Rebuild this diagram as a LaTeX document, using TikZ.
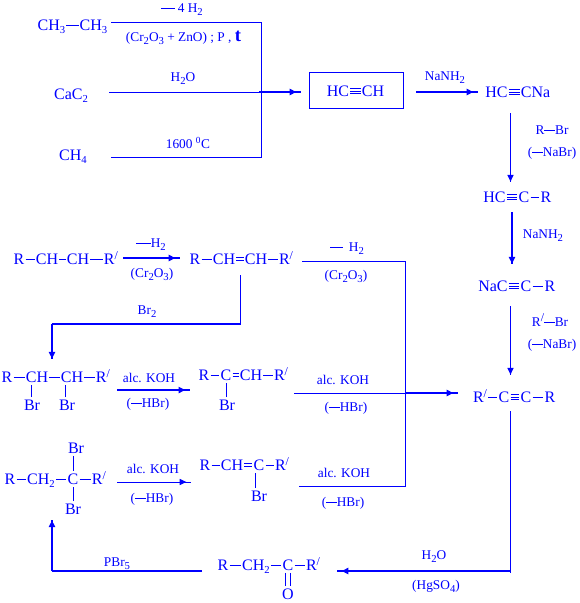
\documentclass[tikz,border=0pt]{standalone}
\usepackage{fontspec}
\setmainfont{Liberation Serif}
\usetikzlibrary{arrows.meta,decorations.markings}
\definecolor{chem}{RGB}{0,0,255}
\newcommand{\ld}[1][8pt]{\rule[2.7pt]{#1}{0.6pt}}
\newcommand{\su}[1]{\raisebox{-2.6pt}{\fontsize{8}{9}\selectfont #1}}
\newcommand{\rp}{R\raisebox{3.6pt}{\small /}}
\newcommand{\A}[4]{\node[atom] (#1) at (#2,#3) {#4};}
\newcommand{\Br}[3]{\node[atom] (#1) at (#2,#3) {Br};}
\newcommand{\Lb}[4]{\node[lab] (#1) at (#2,#3) {#4};}
\newcommand{\B}[2]{\draw[bond] (#1) -- (#2);}
\newcommand{\DB}[2]{\draw[bond,transform canvas={yshift=1.3pt}] (#1) -- (#2);\draw[bond,transform canvas={yshift=-1.3pt}] (#1) -- (#2);}
\newcommand{\TB}[2]{\draw[bond] (#1) -- (#2);\draw[bond,transform canvas={yshift=1.9pt}] (#1) -- (#2);\draw[bond,transform canvas={yshift=-1.9pt}] (#1) -- (#2);}
\tikzset{
  atom/.style={text=chem,font=\fontsize{12}{14}\selectfont,inner sep=0.7pt,text height=7.9pt,text depth=0pt,anchor=center},
  lab/.style={text=chem,font=\fontsize{10}{12}\selectfont,inner sep=0pt,text height=6.6pt,text depth=0pt,anchor=center},
  bond/.style={draw=chem,line width=0.65pt},
  vbond/.style={draw=chem,line width=0.7pt,shorten >=1pt,shorten <=1pt},
  thinline/.style={draw=chem,line width=0.75pt},
  midline/.style={draw=chem,line width=1.1pt},
  thickline/.style={draw=chem,line width=1.5pt},
  headat/.style={postaction={decorate},decoration={markings,mark=at position #1 with {\arrow[chem]{Triangle[length=5pt,width=4.6pt]}}}}
}
\begin{document}
\begin{tikzpicture}[x=0.75pt,y=-0.75pt]
\useasboundingbox (0,0) rectangle (579,603);
% top-left reagents
\A{et1}{51.5}{25}{CH\su{3}} \A{et2}{93.5}{25}{CH\su{3}} \B{et1}{et2}
\A{cac}{71}{94}{CaC\su{2}}
\A{meth}{73}{155}{CH\su{4}}
\Lb{l1}{182}{8}{\ld[10pt] 4 H\su{2}}
\Lb{l2}{183.5}{37}{(Cr\su{2}O\su{3} + ZnO) ; P , {\bfseries\fontsize{14}{14}\selectfont t}}
\Lb{l3}{183}{77}{H\su{2}O}
\Lb{l4}{188}{144}{1600 \textsuperscript{0}C}
\coordinate (etS) at (111,22.5);
\coordinate (etC) at (261.5,22.5);
\coordinate (meS) at (111,157.5);
\coordinate (meC) at (261.5,157.5);
\coordinate (caS) at (109,92.5);
\coordinate (jn1) at (259,92);
\coordinate (jn0) at (259,92.5);
\coordinate (jn1e) at (301,92);
\draw[thinline] (etS) -- (etC) -- (meC) -- (meS);
\draw[thinline] (caS) -- (jn0);
\draw[thickline,headat=-3.5pt] (jn1) -- (jn1e);
% acetylene
\node[draw=chem,line width=0.75pt,minimum width=70.5pt,minimum height=27.5pt,inner sep=0pt] (box) at (356,90.5) {};
\A{h1}{338}{91}{HC} \A{h2}{373}{91}{CH} \TB{h1}{h2}
\coordinate (n1s) at (416,92);
\coordinate (n1e) at (478,92);
\draw[thickline,headat=-3.5pt] (n1s) -- (n1e);
\Lb{l5}{445}{76}{NaNH\su{2}}
% right column
\A{a1}{496.5}{92}{HC} \A{a2}{535.5}{92}{CNa} \TB{a1}{a2}
\coordinate (v1s) at (510.5,113);
\coordinate (v1e) at (510.5,182);
\draw[thinline,headat=-0.3pt] (v1s) -- (v1e);
\Lb{l6}{552}{130}{R\ld Br}
\Lb{l7}{552}{152}{(\ld NaBr)}
\A{b1}{494.5}{197}{HC} \A{b2}{524}{197}{C} \A{b3}{546}{197}{R} \TB{b1}{b2} \B{b2}{b3}
\coordinate (v2s) at (512,212);
\coordinate (v2e) at (512,264);
\draw[thickline,headat=-0.3pt] (v2s) -- (v2e);
\Lb{l8}{543}{234}{NaNH\su{2}}
\A{c1}{493}{286}{NaC} \A{c2}{526}{286}{C} \A{c3}{550}{286}{R} \TB{c1}{c2} \B{c2}{c3}
\coordinate (v3s) at (510.5,306);
\coordinate (v3e) at (510.5,375);
\draw[thinline,headat=-0.3pt] (v3s) -- (v3e);
\Lb{l9}{550}{322}{\rp\ld Br}
\Lb{l10}{552}{344}{(\ld NaBr)}
\A{d1}{480}{397}{\rp} \A{d2}{504}{397}{C} \A{d3}{526}{397}{C} \A{d4}{550}{397}{R} \B{d1}{d2} \TB{d2}{d3} \B{d3}{d4}
% bottom return
\coordinate (r1s) at (510.5,411);
\coordinate (r1c) at (510.5,573);
\coordinate (r1t) at (510.5,571);
\coordinate (r1e) at (337,571);
\draw[thinline] (r1s) -- (r1c);
\draw[thickline,headat=-3.5pt] (r1t) -- (r1e);
\Lb{l11}{434}{555}{H\su{2}O}
\Lb{l12}{436}{585}{(HgSO\su{4})}
% ketone
\A{k1}{223}{565}{R} \A{k2}{256}{565}{CH\su{2}} \A{k3}{288}{565}{C} \A{k4}{313}{565}{\rp} \A{k5}{288}{594}{O}
\B{k1}{k2} \B{k2}{k3} \B{k3}{k4}
\draw[vbond,transform canvas={xshift=1.7pt}] (k3) -- (k5);
\draw[vbond,transform canvas={xshift=-1.7pt}] (k3) -- (k5);
\coordinate (p1s) at (202,571);
\coordinate (p1c) at (52,571);
\coordinate (p1e) at (52,520);
\draw[midline] (p1s) -- (p1c);
\draw[thickline,headat=-0.3pt] (p1c) -- (p1e);
\Lb{l13}{117}{562}{PBr\su{5}}
% alkane row
\A{e1}{19}{259}{R} \A{e2}{47}{259}{CH} \A{e3}{78}{259}{CH} \A{e4}{111}{259}{\rp}
\B{e1}{e2} \B{e2}{e3} \B{e3}{e4}
\Lb{l14}{151}{243}{\ld[11pt]H\su{2}}
\Lb{l15}{152}{273}{(Cr\su{2}O\su{3})}
\coordinate (q1s) at (123,258);
\coordinate (q1e) at (180,258);
\draw[thickline,headat=-3.5pt] (q1s) -- (q1e);
\A{f1}{195}{259}{R} \A{f2}{224}{259}{CH} \A{f3}{256}{259}{CH} \A{f4}{286}{259}{\rp}
\B{f1}{f2} \DB{f2}{f3} \B{f3}{f4}
% Br2 path
\coordinate (g1s) at (240.5,275);
\coordinate (g1c) at (240.5,324);
\coordinate (g2c) at (52,324);
\coordinate (g2e) at (52,359);
\draw[midline] (g1s) -- (g1c) -- (g2c);
\draw[thickline,headat=-0.3pt] (g2c) -- (g2e);
\Lb{l16}{147}{310}{Br\su{2}}
% right collector
\coordinate (m1s) at (302,261.5);
\coordinate (m1c) at (405.5,261.5);
\coordinate (m2c) at (405.5,486.5);
\coordinate (m2e) at (299,486.5);
\draw[thinline] (m1s) -- (m1c) -- (m2c) -- (m2e);
\Lb{l17}{347}{247}{\ld[10pt]\, H\su{2}}
\Lb{l18}{346}{275}{(Cr\su{2}O\su{3})}
\coordinate (m3s) at (294,393.5);
\coordinate (m3c) at (405,393.5);
\coordinate (m3d) at (405,393);
\coordinate (m3e) at (458,393);
\draw[thinline] (m3s) -- (m3c);
\draw[thickline,headat=-3.5pt] (m3d) -- (m3e);
\Lb{l19}{343}{380}{alc. KOH}
\Lb{l20}{346}{407}{(\ld HBr)}
\Lb{l21}{344}{473}{alc. KOH}
\Lb{l22}{343}{502}{(\ld HBr)}
% dibromide row
\A{s1}{7}{377}{R} \A{s2}{37}{377}{CH} \A{s3}{72}{377}{CH} \A{s4}{103}{377}{\rp}
\B{s1}{s2} \B{s2}{s3} \B{s3}{s4}
\Br{s5}{32}{405} \Br{s6}{67}{405}
\draw[vbond] (s5.north -| 31,0) -- (s2.south -| 31,0);
\draw[vbond] (s6.north -| 65,0) -- (s3.south -| 65,0);
\Lb{l23}{149}{378}{alc. KOH}
\Lb{l24}{148}{403}{(\ld HBr)}
\coordinate (t1s) at (117,390);
\coordinate (t1e) at (190,390);
\draw[midline,headat=-3.5pt] (t1s) -- (t1e);
\A{u1}{204}{375}{R} \A{u2}{226}{375}{C} \A{u3}{251}{375}{CH} \A{u4}{281}{375}{\rp}
\B{u1}{u2} \DB{u2}{u3} \B{u3}{u4}
\Br{u5}{227}{405}
\draw[vbond] (u5.north -| u2.south) -- (u2.south);
% gem-dibromide row
\A{w1}{10}{479}{R} \A{w2}{41}{479}{CH\su{2}} \A{w3}{73}{479}{C} \A{w4}{99}{479}{\rp}
\B{w1}{w2} \B{w2}{w3} \B{w3}{w4}
\Br{w5}{76}{448} \Br{w6}{73}{509}
\draw[vbond] (w5.south -| w3.north) -- (w3.north);
\draw[vbond] (w6.north -| w3.south) -- (w3.south);
\Lb{l25}{153}{469}{alc. KOH}
\Lb{l26}{152}{498}{(\ld HBr)}
\coordinate (x1s) at (117,482);
\coordinate (x1e) at (191,482);
\draw[thinline,headat=-3.5pt] (x1s) -- (x1e);
\A{y1}{205}{465}{R} \A{y2}{232}{465}{CH} \A{y3}{259}{465}{C} \A{y4}{282}{465}{\rp}
\B{y1}{y2} \DB{y2}{y3} \B{y3}{y4}
\Br{y5}{259}{496}
\draw[vbond] (y5.north -| 255,0) -- (y3.south -| 255,0);
\end{tikzpicture}
\end{document}
